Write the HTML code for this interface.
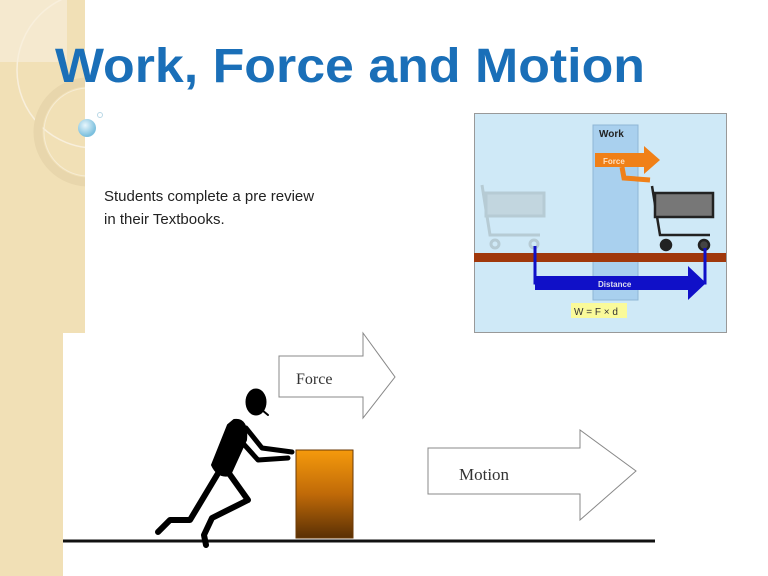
<!DOCTYPE html>
<html><head><style>html,body{margin:0;padding:0;background:#fff}svg{display:block}</style></head>
<body>
<svg width="768" height="576" viewBox="0 0 768 576" xmlns="http://www.w3.org/2000/svg">
<defs>
<linearGradient id="box" x1="0" y1="0" x2="0" y2="1"><stop offset="0" stop-color="#f59a0c"/><stop offset="0.5" stop-color="#c06a08"/><stop offset="1" stop-color="#5a3004"/></linearGradient>
<radialGradient id="bub" cx="0.4" cy="0.35" r="0.6"><stop offset="0" stop-color="#e8f6fc"/><stop offset="1" stop-color="#7cc0de"/></radialGradient>
<clipPath id="side"><rect x="0" y="0" width="85" height="576"/></clipPath>
</defs>
<rect width="768" height="576" fill="#fff"/>
<!-- sidebar -->
<rect x="0" y="0" width="85" height="576" fill="#f1e0b6"/>
<g clip-path="url(#side)">
<rect x="0" y="0" width="67" height="62" fill="#f5e9cf"/>
<circle cx="95" cy="70" r="78" fill="none" stroke="#f8efdc" stroke-width="1.5"/>
<circle cx="88" cy="132" r="50" fill="none" stroke="#e8d6ac" stroke-width="9"/>
<circle cx="88" cy="132" r="44" fill="none" stroke="#f6ecd4" stroke-width="1"/>
</g>
<circle cx="87" cy="128" r="9" fill="url(#bub)"/>
<circle cx="100" cy="115" r="2.5" fill="none" stroke="#b9d8e6" stroke-width="1"/>
<!-- title -->
<text x="55" y="82" font-family="Liberation Sans, sans-serif" font-weight="bold" font-size="48" fill="#1a6fb8" textLength="590" lengthAdjust="spacingAndGlyphs">Work, Force and Motion</text>
<text x="104" y="201" font-family="Liberation Sans, sans-serif" font-size="15" fill="#222">Students complete a pre review</text>
<text x="104" y="224" font-family="Liberation Sans, sans-serif" font-size="15" fill="#222">in their Textbooks.</text>
<!-- right picture -->
<rect x="474.5" y="113.5" width="252" height="219" fill="#cfe9f7" stroke="#999"/>
<rect x="593" y="125" width="45" height="175" fill="#a9d0ee" stroke="#8fb6d6"/>
<text x="599" y="137" font-family="Liberation Sans, sans-serif" font-weight="bold" font-size="10" fill="#222">Work</text>
<polygon points="595,153 644,153 644,146 660,160 644,174 644,167 595,167" fill="#f08018"/>
<text x="603" y="164" font-family="Liberation Sans, sans-serif" font-weight="bold" font-size="8" fill="#ffe0c0">Force</text>
<path d="M622,167 L624,178 L650,180" fill="none" stroke="#f08018" stroke-width="5"/>
<g stroke="#b0c4cc" fill="none" stroke-width="3" opacity="0.8">
<path d="M482,185 L490,235 L540,235"/><rect x="486" y="193" width="58" height="23" fill="#bfd2da"/>
<circle cx="495" cy="244" r="4"/><circle cx="534" cy="244" r="4"/></g>
<g stroke="#222" stroke-width="2.5">
<path d="M652,186 L660,235 L710,235" fill="none"/><rect x="655" y="193" width="58" height="24" fill="#777"/>
<circle cx="666" cy="245" r="5" fill="#222"/><circle cx="704" cy="245" r="5" fill="#444"/></g>
<rect x="474" y="253" width="252" height="9" fill="#a0380c"/>
<path d="M535,246 L535,283 L705,283 L705,248" fill="none" stroke="#1010c8" stroke-width="3"/>
<polygon points="535,276 688,276 688,266 706,283 688,300 688,290 535,290" fill="#1010c8"/>
<text x="598" y="287" font-family="Liberation Sans, sans-serif" font-weight="bold" font-size="8" fill="#dde">Distance</text>
<rect x="571" y="303" width="56" height="15" fill="#fafa9a"/>
<text x="574" y="315" font-family="Liberation Sans, sans-serif" font-size="10" fill="#333">W = F × d</text>
<!-- bottom figure -->
<rect x="63" y="333" width="597" height="243" fill="#fff"/>
<polygon points="279,356 363,356 363,333 395,377 363,418 363,397 279,397" fill="#fff" stroke="#888" stroke-width="1"/>
<text x="296" y="384" font-family="Liberation Serif, serif" font-size="16" fill="#333">Force</text>
<polygon points="428,448 580,448 580,430 636,471 580,520 580,494 428,494" fill="#fff" stroke="#888" stroke-width="1"/>
<text x="459" y="480" font-family="Liberation Serif, serif" font-size="17" fill="#333">Motion</text>
<rect x="296" y="450" width="57" height="88" fill="url(#box)" stroke="#6b3a06"/>
<line x1="63" y1="541" x2="655" y2="541" stroke="#111" stroke-width="3"/>
<!-- person -->
<g fill="#000" stroke="#000" stroke-linejoin="round" stroke-linecap="round">
<ellipse cx="256" cy="402" rx="10" ry="13"/>
<path d="M262,410 L268,415" stroke-width="2"/>
<path d="M234,420 Q248,418 246,440 L230,475 Q218,478 212,465 L228,425 Z" stroke-width="2"/>
<path d="M246,428 L262,448 L292,452" fill="none" stroke-width="5"/>
<path d="M240,440 L258,460 L288,458" fill="none" stroke-width="5"/>
<path d="M220,470 L190,520 L170,520 L158,532" fill="none" stroke-width="6"/>
<path d="M228,472 L248,500 L212,518 L204,535 L206,545" fill="none" stroke-width="6"/>
</g>
</svg>
</body></html>
